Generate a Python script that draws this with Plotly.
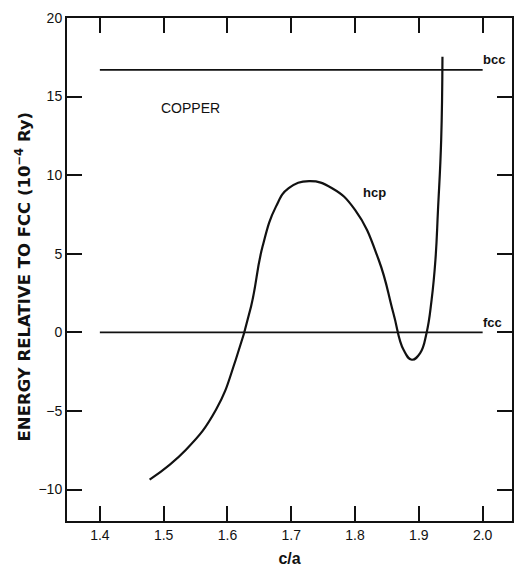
import plotly.graph_objects as go

# hcp energy relative to fcc versus axial ratio c/a (units of 1e-4 Ry)
hcp_ca = [1.478, 1.535, 1.582, 1.613, 1.637, 1.655, 1.676, 1.696, 1.728,
          1.764, 1.800, 1.837, 1.860, 1.876, 1.889, 1.902, 1.912, 1.920,
          1.926, 1.930, 1.935, 1.937]
hcp_energy = [-9.37, -7.46, -4.92, -1.74, 1.65, 5.46, 8.00, 9.17, 9.62,
              9.17, 7.79, 4.62, 1.23, -1.11, -1.74, -1.32, -0.05, 2.07,
              4.62, 7.79, 12.24, 17.54]

# reference structures: constant energies over the c/a span
ref_ca = [1.4, 2.0]
bcc_energy = 16.7
fcc_energy = 0.0

x_ticks = [1.4, 1.5, 1.6, 1.7, 1.8, 1.9, 2.0]
x_tick_text = ["1.4", "1.5", "1.6", "1.7", "1.8", "1.9", "2.0"]
y_ticks = [-10, -5, 0, 5, 10, 15, 20]
y_tick_text = ["\u221210", "\u22125", "0", "5", "10", "15", "20"]

font_family = "Liberation Sans, Arial, sans-serif"
title_family = "DejaVu Sans, Liberation Sans, sans-serif"
ink = "#111111"

fig = go.Figure()
fig.add_trace(go.Scatter(x=ref_ca, y=[bcc_energy] * 2, mode="lines",
                         line=dict(color=ink, width=1.6), hoverinfo="skip"))
fig.add_trace(go.Scatter(x=ref_ca, y=[fcc_energy] * 2, mode="lines",
                         line=dict(color=ink, width=1.6), hoverinfo="skip"))
fig.add_trace(go.Scatter(x=hcp_ca, y=hcp_energy, mode="lines",
                         line=dict(color=ink, width=2.2, shape="spline", smoothing=1.3)))

labels = [
    dict(x=1.542, y=14.3, text="COPPER", size=14, anchor="center"),
    dict(x=1.809, y=8.87, text="<b>hcp</b>", size=13, anchor="left"),
    dict(x=1.998, y=17.35, text="<b>bcc</b>", size=13, anchor="left"),
    dict(x=1.998, y=0.62, text="<b>fcc</b>", size=13, anchor="left"),
]
for lab in labels:
    fig.add_annotation(x=lab["x"], y=lab["y"], text=lab["text"], showarrow=False,
                       xanchor=lab["anchor"], yanchor="middle",
                       font=dict(family=font_family, size=lab["size"], color=ink))

# vertical axis title, placed as a rotated paper-anchored annotation
fig.add_annotation(xref="paper", yref="paper", x=-0.098, y=0.487,
                   text="<b>ENERGY RELATIVE TO FCC (10<sup>\u22124</sup> Ry)</b>",
                   textangle=-90, showarrow=False, xanchor="center", yanchor="middle",
                   font=dict(family=title_family, size=16.5, color=ink))

axis_common = dict(showgrid=False, zeroline=False, showline=True, linecolor=ink,
                   linewidth=2, mirror="ticks", ticks="inside", ticklen=15,
                   tickwidth=1.5, tickcolor=ink,
                   tickfont=dict(family=font_family, size=14, color=ink))

fig.update_xaxes(range=[1.3485, 2.046], tickvals=x_ticks, ticktext=x_tick_text,
                 title=dict(text="<b>c/a</b>", standoff=12,
                            font=dict(family=font_family, size=16, color=ink)),
                 **axis_common)
fig.update_yaxes(range=[-12, 20], tickvals=y_ticks, ticktext=y_tick_text,
                 **axis_common)

fig.update_layout(width=515, height=567, showlegend=False,
                  margin=dict(l=67, r=1, t=18, b=46),
                  paper_bgcolor="white", plot_bgcolor="white")

fig.write_html("out.html")
